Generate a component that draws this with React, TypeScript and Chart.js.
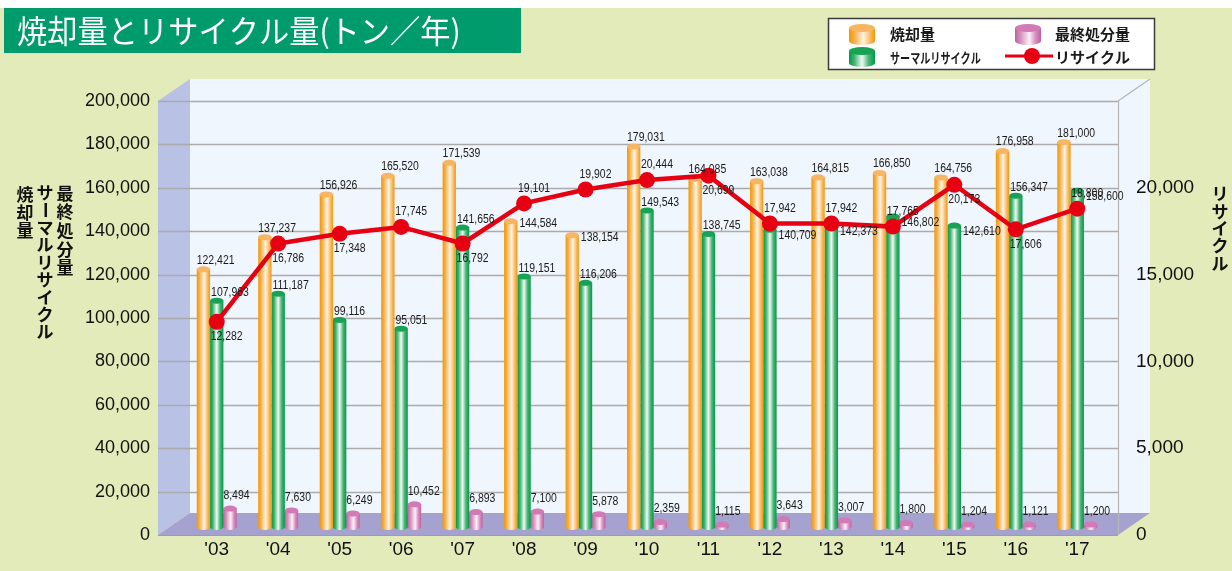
import React, { useEffect, useRef } from 'react';
import { Chart, registerables } from 'chart.js';

Chart.register(...registerables);

// ---- data ----
const years = ["'03", "'04", "'05", "'06", "'07", "'08", "'09", "'10", "'11", "'12", "'13", "'14", "'15", "'16", "'17"];
const incineration = [122421, 137237, 156926, 165520, 171539, 144584, 138154, 179031, 164085, 163038, 164815, 166850, 164756, 176958, 181000];
const thermalRecycle = [107963, 111187, 99116, 95051, 141656, 119151, 116206, 149543, 138745, 140709, 142373, 146802, 142610, 156347, 158600];
const finalDisposal = [8494, 7630, 6249, 10452, 6893, 7100, 5878, 2359, 1115, 3643, 3007, 1800, 1204, 1121, 1200];
const recycle = [12282, 16786, 17348, 17745, 16792, 19101, 19902, 20444, 20699, 17942, 17942, 17765, 20173, 17606, 18800];

// label placement hints: a = above, r = right of bar top, b = below point
const incinerationLabelSide = ['a', 'a', 'a', 'a', 'a', 'r', 'r', 'a', 'a', 'a', 'a', 'a', 'a', 'a', 'a'];
const thermalLabelSide = ['a', 'a', 'a', 'a', 'a', 'a', 'a', 'a', 'a', 'r', 'r', 'r', 'r', 'a', 'r'];
const recycleLabelSide = ['b', 'b', 'b', 'a', 'b', 'a', 'a', 'a', 'b', 'a', 'a', 'a', 'b', 'b', 'a'];

const leftMax = 200000;
const leftStep = 20000;
const rightMax = 25000;
const rightStep = 5000;

const title = '焼却量とリサイクル量(トン／年)';
const leftAxisTitles = ['焼却量', 'サーマルリサイクル', '最終処分量'];
const rightAxisTitle = 'リサイクル';
const legendNames = ['焼却量', 'サーマルリサイクル', '最終処分量', 'リサイクル'];

const JP = '"Noto Sans CJK JP", "Noto Sans", sans-serif';
const NUM = 'Arial, "Liberation Sans", sans-serif';

const palettes = [
  { stops: [[0, '#f39800'], [0.2, '#f6ad45'], [0.55, '#fff4e2'], [0.8, '#f8bd6c'], [1, '#f39800']], cap: '#f8b562' },
  { stops: [[0, '#009944'], [0.2, '#3fb26f'], [0.5, '#f2f9f3'], [0.75, '#4ab679'], [1, '#009944']], cap: '#18a354' },
  { stops: [[0, '#c0609f'], [0.25, '#d99ac4'], [0.55, '#fbf0f7'], [0.8, '#d58cbd'], [1, '#c0609f']], cap: '#d27ab5' },
];

function cylinder(ctx: CanvasRenderingContext2D, cx: number, w: number, top: number, bottom: number, pal: any, ry = 3) {
  const l = cx - w / 2;
  const r = cx + w / 2;
  const g = ctx.createLinearGradient(l, 0, r, 0);
  pal.stops.forEach((s: any) => g.addColorStop(s[0], s[1]));
  ctx.save();
  ctx.fillStyle = g;
  ctx.beginPath();
  ctx.moveTo(l, top);
  ctx.lineTo(l, bottom);
  ctx.ellipse(cx, bottom, w / 2, ry, 0, Math.PI, 0, true);
  ctx.lineTo(r, top);
  ctx.closePath();
  ctx.fill();
  ctx.beginPath();
  ctx.ellipse(cx, top, w / 2, ry, 0, 0, Math.PI * 2);
  ctx.fillStyle = pal.cap;
  ctx.fill();
  ctx.restore();
}

function smallText(ctx: CanvasRenderingContext2D, text: string, left: number, cy: number) {
  ctx.save();
  ctx.translate(left, cy);
  ctx.scale(0.87, 1);
  ctx.font = `12px ${NUM}`;
  ctx.fillStyle = '#1a1a1a';
  ctx.textAlign = 'left';
  ctx.textBaseline = 'middle';
  ctx.fillText(text, 0, 0);
  ctx.restore();
}

function verticalText(ctx: CanvasRenderingContext2D, text: string, cx: number, topY: number, step: number, size: number) {
  ctx.save();
  ctx.font = `bold ${size}px ${JP}`;
  ctx.fillStyle = '#111';
  ctx.textAlign = 'center';
  ctx.textBaseline = 'middle';
  Array.from(text).forEach((ch, i) => {
    const cy = topY + step * i + step / 2;
    if (ch === 'ー') {
      ctx.save();
      ctx.translate(cx, cy);
      ctx.rotate(Math.PI / 2);
      ctx.fillText(ch, 0, 0);
      ctx.restore();
    } else {
      ctx.fillText(ch, cx, cy);
    }
  });
  ctx.restore();
}

function fmt(v: number) {
  return v.toLocaleString('en-US');
}

const decorPlugin = {
  id: 'decor',
  beforeDraw(chart: any) {
    const ctx: CanvasRenderingContext2D = chart.ctx;
    const { width, height } = chart;
    const area = chart.chartArea;
    const yS = chart.scales.y;
    ctx.save();
    ctx.fillStyle = '#e2ebb9';
    ctx.fillRect(0, 0, width, height);
    ctx.fillStyle = '#ffffff';
    ctx.fillRect(0, 0, width, 8);

    // title banner
    ctx.fillStyle = '#009b6d';
    ctx.fillRect(4, 8, 517, 45);
    ctx.save();
    ctx.translate(17, 31);
    ctx.scale(0.96, 1);
    ctx.fillStyle = '#ffffff';
    ctx.font = `31.5px ${JP}`;
    ctx.textAlign = 'left';
    ctx.textBaseline = 'middle';
    ctx.fillText(title, 0, 0);
    ctx.restore();

    // 3D box
    const fl = 158, fr = 1118;
    const dx = 32, dy = 22;
    const top = area.top, bot = area.bottom;
    ctx.fillStyle = '#f0f6fd';
    ctx.fillRect(fl + dx, top - dy, fr - fl, bot - top);
    ctx.fillStyle = '#b9c1e4';
    ctx.beginPath();
    ctx.moveTo(fl, top);
    ctx.lineTo(fl + dx, top - dy);
    ctx.lineTo(fl + dx, bot - dy);
    ctx.lineTo(fl, bot);
    ctx.closePath();
    ctx.fill();
    ctx.fillStyle = '#a6a2d0';
    ctx.beginPath();
    ctx.moveTo(fl, bot);
    ctx.lineTo(fl + dx, bot - dy);
    ctx.lineTo(fr + dx, bot - dy);
    ctx.lineTo(fr, bot);
    ctx.closePath();
    ctx.fill();
    ctx.strokeStyle = '#ababab';
    ctx.lineWidth = 1.6;
    for (let v = leftStep; v <= leftMax; v += leftStep) {
      const y = Math.round(yS.getPixelForValue(v)) + 0.5;
      ctx.beginPath();
      ctx.moveTo(fl, y);
      ctx.lineTo(fr, y);
      ctx.stroke();
    }
    ctx.lineWidth = 1.2;
    ctx.strokeStyle = '#b5b5b5';
    ctx.beginPath();
    ctx.moveTo(fr + 0.5, top);
    ctx.lineTo(fr + 0.5, bot);
    ctx.moveTo(fr, top);
    ctx.lineTo(fr + dx, top - dy);
    ctx.stroke();
    ctx.strokeStyle = '#9c9ab8';
    ctx.beginPath();
    ctx.moveTo(fl, bot + 0.5);
    ctx.lineTo(fr, bot + 0.5);
    ctx.stroke();

    verticalText(ctx, leftAxisTitles[0], 25, 185, 18.3, 17);
    verticalText(ctx, leftAxisTitles[1], 45, 184, 17.4, 17);
    verticalText(ctx, leftAxisTitles[2], 65, 184, 18.6, 17);
    verticalText(ctx, rightAxisTitle, 1220, 185, 17.4, 17);

    // legend
    ctx.fillStyle = '#ffffff';
    ctx.fillRect(828, 18, 327, 52);
    ctx.strokeStyle = '#3a3a3a';
    ctx.lineWidth = 1.5;
    ctx.strokeRect(828.5, 18.5, 326, 51);
    cylinder(ctx, 862, 26, 28, 41, palettes[0], 4);
    cylinder(ctx, 862, 26, 51, 63, palettes[1], 4);
    cylinder(ctx, 1028, 26, 28, 41, palettes[2], 4);
    ctx.strokeStyle = '#e60012';
    ctx.lineWidth = 3;
    ctx.beginPath();
    ctx.moveTo(1005, 56);
    ctx.lineTo(1053, 56);
    ctx.stroke();
    ctx.fillStyle = '#e60012';
    ctx.beginPath();
    ctx.arc(1032, 56, 8, 0, Math.PI * 2);
    ctx.fill();
    ctx.fillStyle = '#1a1a1a';
    ctx.textBaseline = 'middle';
    ctx.textAlign = 'left';
    ctx.font = `bold 15px ${JP}`;
    ctx.fillText(legendNames[0], 890, 34);
    ctx.fillText(legendNames[2], 1055, 34);
    ctx.fillText(legendNames[3], 1055, 57);
    ctx.save();
    ctx.translate(890, 58);
    ctx.scale(0.72, 1);
    ctx.font = `bold 14px ${JP}`;
    ctx.fillText(legendNames[1], 0, 0);
    ctx.restore();
    ctx.restore();
  },
  beforeDatasetDraw(chart: any, args: any) {
    const meta = args.meta;
    if (meta.type !== 'bar') return true;
    const ctx: CanvasRenderingContext2D = chart.ctx;
    const pal = palettes[args.index - 1];
    meta.data.forEach((el: any) => {
      const h = el.base - el.y;
      const bottom = el.base - 8;
      const top = args.index === 3 ? bottom - h : el.y;
      cylinder(ctx, el.x, el.width, top, bottom, pal, 3);
    });
    return false;
  },
  afterDatasetsDraw(chart: any) {
    const ctx: CanvasRenderingContext2D = chart.ctx;
    const mOr = chart.getDatasetMeta(1).data;
    const mGr = chart.getDatasetMeta(2).data;
    const mPk = chart.getDatasetMeta(3).data;
    const mLn = chart.getDatasetMeta(0).data;
    years.forEach((_, i) => {
      const o = mOr[i];
      if (incinerationLabelSide[i] === 'r') smallText(ctx, fmt(incineration[i]), o.x + o.width / 2 + 2, o.y + 2);
      else smallText(ctx, fmt(incineration[i]), o.x - o.width / 2, o.y - 9);
      const g = mGr[i];
      if (thermalLabelSide[i] === 'r') smallText(ctx, fmt(thermalRecycle[i]), g.x + g.width / 2 + 2, g.y + 6);
      else smallText(ctx, fmt(thermalRecycle[i]), g.x - g.width / 2 + 1, g.y - 8);
      const p = mPk[i];
      const pTop = p.base - 8 - (p.base - p.y);
      smallText(ctx, fmt(finalDisposal[i]), p.x - p.width / 2, pTop - 13);
      const l = mLn[i];
      if (recycleLabelSide[i] === 'a') smallText(ctx, fmt(recycle[i]), l.x - 6, l.y - 15);
      else smallText(ctx, fmt(recycle[i]), l.x - 6, l.y + 15);
    });
  },
};

function noVPad(s: any) {
  s.paddingTop = 0;
  s.paddingBottom = 0;
}

export default function App() {
  const ref = useRef<HTMLCanvasElement | null>(null);
  useEffect(() => {
    document.body.style.margin = '0';
    const canvas = ref.current;
    if (!canvas) return;
    const chart = new Chart(canvas, {
      type: 'bar',
      data: {
        labels: years,
        datasets: [
          {
            type: 'line',
            label: legendNames[3],
            data: recycle,
            yAxisID: 'y2',
            order: 0,
            borderColor: '#e60012',
            backgroundColor: '#e60012',
            borderWidth: 4.5,
            pointRadius: 8,
            pointHoverRadius: 8,
            pointBackgroundColor: '#e60012',
            pointBorderWidth: 0,
            tension: 0,
          } as any,
          { type: 'bar', label: legendNames[0], data: incineration, yAxisID: 'y', order: 1, backgroundColor: '#f39800' },
          { type: 'bar', label: legendNames[1], data: thermalRecycle, yAxisID: 'y', order: 1, backgroundColor: '#009944' },
          { type: 'bar', label: legendNames[2], data: finalDisposal, yAxisID: 'y', order: 1, backgroundColor: '#c0609f' },
        ],
      },
      options: {
        responsive: false,
        animation: false,
        devicePixelRatio: 1,
        datasets: { bar: { categoryPercentage: 0.65, barPercentage: 1.0 } },
        layout: { padding: { top: 101, left: 0, right: 0, bottom: 0 } },
        plugins: { legend: { display: false }, tooltip: { enabled: false }, title: { display: false } },
        scales: {
          x: {
            grid: { display: false, drawTicks: false },
            border: { display: false },
            ticks: { font: { family: NUM, size: 19 }, color: '#111', padding: 3, maxRotation: 0, autoSkip: false },
            afterFit(s: any) { s.height = 36; s.paddingLeft = 0; s.paddingRight = 0; },
          },
          y: {
            position: 'left',
            min: 0,
            max: leftMax,
            grid: { display: false, drawTicks: false },
            border: { display: false },
            ticks: { stepSize: leftStep, font: { family: NUM, size: 18 }, color: '#111', padding: 36, callback: (v: any) => fmt(Number(v)) },
            afterFit(s: any) { s.width = 186; noVPad(s); },
          },
          y2: {
            position: 'right',
            min: 0,
            max: rightMax,
            grid: { display: false, drawTicks: false },
            border: { display: false },
            ticks: { stepSize: rightStep, font: { family: NUM, size: 19 }, color: '#111', padding: 28, callback: (v: any) => (Number(v) === rightMax ? '' : fmt(Number(v))) },
            afterFit(s: any) { s.width = 124; noVPad(s); },
          },
        },
      } as any,
      plugins: [decorPlugin],
    });
    return () => chart.destroy();
  }, []);
  return (
    <div style={{ width: 1232, height: 571 }}>
      <canvas ref={ref} width={1232} height={571} style={{ display: 'block' }} />
    </div>
  );
}
